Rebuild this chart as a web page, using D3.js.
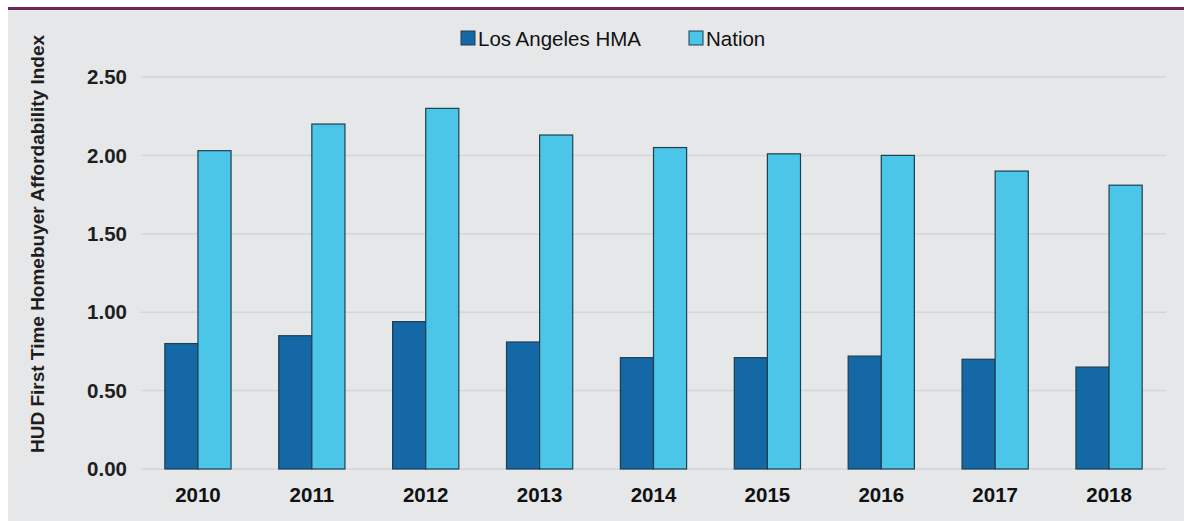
<!DOCTYPE html>
<html>

<head>
    <meta charset="utf-8">
    <title>HUD First Time Homebuyer Affordability Index</title>
    <script src="https://d3js.org/d3.v7.min.js"></script>
    <style>
        body { margin: 0; background: #fff; }
        text { font-family: "Liberation Sans", Arial, sans-serif; }
    </style>
</head>

<body>
    <svg id="chart" width="1184" height="521"></svg>
    <script>
        // data
        const years = ["2010", "2011", "2012", "2013", "2014", "2015", "2016", "2017", "2018"];
        const laValues = [0.80, 0.85, 0.94, 0.81, 0.71, 0.71, 0.72, 0.70, 0.65];
        const nationValues = [2.03, 2.20, 2.30, 2.13, 2.05, 2.01, 2.00, 1.90, 1.81];
        const seriesNames = ["Los Angeles HMA", "Nation"];
        const seriesColors = ["#1368a5", "#4bc6e8"];
        const yTicks = [0, 0.5, 1, 1.5, 2, 2.5];

        const svg = d3.select("#chart"),
            width = +svg.attr("width"),
            height = +svg.attr("height");

        // panel background and the rule above it
        svg.append("rect").attr("x", 8).attr("y", 9).attr("width", width - 8).attr("height", height - 9)
            .attr("fill", "#e6e7e9");
        svg.append("rect").attr("x", 8).attr("y", 7).attr("width", width - 8).attr("height", 3)
            .attr("fill", "#6b2856");

        const margin = { left: 141, right: 18, top: 77, bottom: 52 };

        const x = d3.scaleBand()
            .domain(years)
            .range([margin.left, width - margin.right]);

        const xInner = d3.scaleBand()
            .domain(seriesNames)
            .range([0, x.bandwidth()])
            .paddingInner(0)
            .paddingOuter(0.72);

        const y = d3.scaleLinear()
            .domain([0, 2.5])
            .range([height - margin.bottom, margin.top]);

        // grid
        svg.append("g")
            .selectAll("line")
            .data(yTicks)
            .join("line")
            .attr("x1", margin.left)
            .attr("x2", width - margin.right)
            .attr("y1", d => y(d))
            .attr("y2", d => y(d))
            .attr("stroke", "#d4d5d7")
            .attr("stroke-width", 1.5);

        // y tick labels
        svg.append("g")
            .selectAll("text")
            .data(yTicks)
            .join("text")
            .attr("x", 127)
            .attr("y", d => y(d))
            .attr("dy", "0.35em")
            .attr("text-anchor", "end")
            .attr("font-size", 20.5)
            .attr("font-weight", "bold")
            .attr("fill", "#1e1e1e")
            .text(d => d3.format(".2f")(d));

        // bars
        const rows = years.map((yr, i) => ({ year: yr, values: [laValues[i], nationValues[i]] }));

        svg.append("g")
            .selectAll("g")
            .data(rows)
            .join("g")
            .attr("transform", d => `translate(${x(d.year)},0)`)
            .selectAll("rect")
            .data(d => d.values.map((v, j) => ({ name: seriesNames[j], value: v, color: seriesColors[j] })))
            .join("rect")
            .attr("x", d => xInner(d.name))
            .attr("width", xInner.bandwidth())
            .attr("y", d => y(d.value))
            .attr("height", d => y(0) - y(d.value))
            .attr("fill", d => d.color)
            .attr("stroke", "#1d3f50")
            .attr("stroke-width", 1.2);

        // x labels
        svg.append("g")
            .selectAll("text")
            .data(years)
            .join("text")
            .attr("x", d => x(d) + x.bandwidth() / 2)
            .attr("y", 502)
            .attr("text-anchor", "middle")
            .attr("font-size", 20.5)
            .attr("font-weight", "bold")
            .attr("fill", "#111")
            .text(d => d);

        // y axis title
        svg.append("text")
            .attr("transform", "translate(44,244) rotate(-90)")
            .attr("text-anchor", "middle")
            .attr("font-size", 19)
            .attr("font-weight", "bold")
            .attr("fill", "#1e1e1e")
            .text("HUD First Time Homebuyer Affordability Index");

        // legend
        const legendX = [461, 689];
        const legend = svg.append("g")
            .selectAll("g")
            .data(seriesNames)
            .join("g")
            .attr("transform", (d, i) => `translate(${legendX[i]},31)`);
        legend.append("rect")
            .attr("width", 14).attr("height", 14)
            .attr("fill", (d, i) => seriesColors[i])
            .attr("stroke", "#1d3f50")
            .attr("stroke-width", 1);
        legend.append("text")
            .attr("x", 17)
            .attr("y", 14.5)
            .attr("font-size", 20.5)
            .attr("fill", "#111")
            .text(d => d);
    </script>
</body>

</html>
